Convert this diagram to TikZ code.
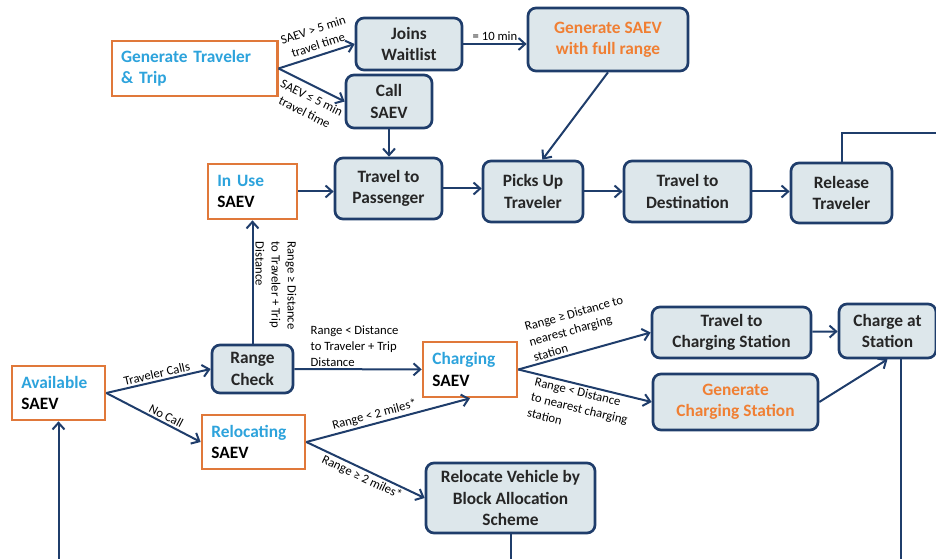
\documentclass[tikz,border=0pt]{standalone}
\usepackage{fontspec}
\setmainfont{Carlito}
\usetikzlibrary{arrows.meta}
\definecolor{navy}{HTML}{1F3D6B}
\definecolor{boxfill}{HTML}{DDE7EB}
\definecolor{obord}{HTML}{E0783A}
\definecolor{tblue}{HTML}{2DA3DC}
\definecolor{torange}{HTML}{F07F33}
\tikzset{
  proc/.style={draw=navy, line width=2pt, rounded corners=6pt, fill=boxfill, text=black!85,
    align=center, font=\fontsize{13}{16}\selectfont\bfseries, inner sep=2pt},
  state/.style={draw=obord, line width=2pt, fill=white, align=left,
    font=\fontsize{13}{16}\selectfont\bfseries, inner xsep=7pt, inner ysep=2pt},
  flow/.style={draw=navy, line width=1.5pt, -{Straight Barb[length=5pt,width=9pt]}},
  link/.style={draw=navy, line width=1.5pt},
  lbl/.style={font=\fontsize{9.5}{12}\selectfont, text=black, align=left, inner sep=1.5pt}
}
\begin{document}
\begin{tikzpicture}[x=0.75pt,y=-0.75pt]
\useasboundingbox (0,0) rectangle (936,559);
% trip request
\node[state, text=tblue, text width=110pt, minimum height=41.25pt] (gentrav) at (194.5,68.5) {Generate Traveler\\\& Trip};
\node[proc, minimum width=79.5pt, minimum height=39pt] (joins) at (409,44) {Joins\\Waitlist};
\node[proc, minimum width=64.5pt, minimum height=39.75pt] (call) at (389,101.5) {Call\\SAEV};
\node[proc, text=torange, minimum width=120pt, minimum height=47.25pt] (gensaev) at (608,39.5) {Generate SAEV\\with full range};
% trip
\node[state, text width=52.75pt, minimum height=41.25pt] (inuse) at (252.5,191.5) {\textcolor{tblue}{In Use}\\SAEV};
\node[proc, minimum width=80.25pt, minimum height=45.75pt] (ttpass) at (388.5,188.5) {Travel to\\Passenger};
\node[proc, minimum width=75pt, minimum height=45.75pt] (pickup) at (533,191.5) {Picks Up\\Traveler};
\node[proc, minimum width=95.25pt, minimum height=45.75pt] (ttdest) at (687.5,191.5) {Travel to\\Destination};
\node[proc, minimum width=75.75pt, minimum height=45pt] (release) at (841.5,193) {Release\\Traveler};
% idle vehicle
\node[state, text width=55.75pt, minimum height=40.5pt] (avail) at (58.5,393) {\textcolor{tblue}{Available}\\SAEV};
\node[proc, minimum width=60.75pt, minimum height=36pt] (rcheck) at (252.5,369) {Range\\Check};
\node[state, text width=63.25pt, minimum height=40.5pt] (reloc) at (253.5,442) {\textcolor{tblue}{Relocating}\\SAEV};
\node[state, text width=56.5pt, minimum height=41.25pt] (charging) at (470,369.5) {\textcolor{tblue}{Charging}\\SAEV};
\node[proc, minimum width=119.25pt, minimum height=38.25pt] (ttcs) at (731.5,332.5) {Travel to\\Charging Station};
\node[proc, text=torange, minimum width=123.75pt, minimum height=42pt] (gcs) at (735.5,402) {Generate\\Charging Station};
\node[proc, minimum width=72.75pt, minimum height=40.5pt] (chgstat) at (887.5,331) {Charge at\\Station};
\node[proc, minimum width=126.75pt, minimum height=52.5pt] (relveh) at (510.5,498) {Relocate Vehicle by\\Block Allocation\\Scheme};
\coordinate (relout) at (936,133);
\coordinate (availin) at (58.5,559);
\coordinate (chgout) at (901,559);
% connectors
\draw[flow] (gentrav.east) -- node[lbl, sloped, above=2pt, pos=0.56, align=center] {SAEV > 5 min\\travel time} (joins.west);
\draw[flow] (gentrav.east) -- node[lbl, sloped, below=3pt, pos=0.58, align=center] {SAEV ≤ 5 min\\travel time} (call.west);
\draw[flow] (joins.east) -- node[lbl, above] {= 10 min} (joins.east -| gensaev.west);
\draw[flow] (call.south) -- (call.south |- ttpass.north);
\draw[flow] (gensaev.south) -- ([xshift=7pt]pickup.north);
\draw[flow] (inuse.east) -- (inuse.east -| ttpass.west);
\draw[flow] (ttpass.east) -- (ttpass.east -| pickup.west);
\draw[flow] (pickup.east) -- (pickup.east -| ttdest.west);
\draw[flow] (ttdest.east) -- (ttdest.east -| release.west);
\draw[link] (release.north) |- (relout);
\draw[flow] (avail.east) -- node[lbl, sloped, above] {Traveler Calls} (rcheck.west);
\draw[flow] (avail.east) -- node[lbl, sloped, above, pos=0.6] {No Call} (reloc.west);
\draw[flow] (rcheck) -- node[lbl, pos=0.85, rotate=-90, anchor=south west] {Range ≥ Distance\\to Traveler + Trip\\Distance} (inuse);
\draw[flow] (rcheck) -- node[lbl, pos=0, anchor=south west, xshift=10pt] {Range < Distance\\to Traveler + Trip\\Distance} (charging);
\draw[flow] (reloc.east) -- node[lbl, sloped, above, pos=0.43] {Range < 2 miles*} (charging.south);
\draw[flow] (reloc.east) -- node[lbl, sloped, below] {Range ≥ 2 miles*} (relveh.west);
\draw[flow] (charging.east) -- node[lbl, sloped, above] {Range ≥ Distance to\\nearest charging\\station} (ttcs.west);
\draw[flow] (charging.east) -- node[lbl, sloped, below] {Range < Distance\\to nearest charging\\station} (gcs.west);
\draw[flow] (ttcs) -- (chgstat);
\draw[flow] (gcs.east) -- (chgstat.south);
\draw[link] (chgstat.south -| chgout) -- (chgout);
\draw[link] (relveh.south) -- (relveh.south |- chgout);
\draw[flow] (availin) -- (avail.south);
\end{tikzpicture}
\end{document}
